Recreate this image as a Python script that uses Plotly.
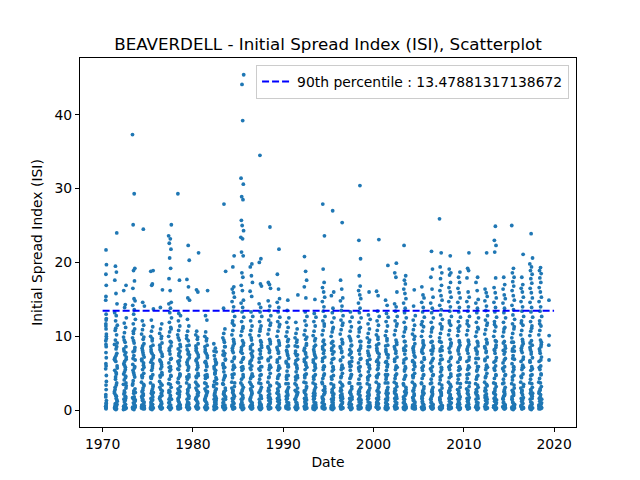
import pandas as pd
import plotly.graph_objects as go

# --- Values (ISI per fire season, one list per year) ---
years = list(range(1970, 2020))

isi_1970s = [
    [0.2, 0.5, 0.9, 0.4, 1.3, 2.1, 2.8, 3.4, 4.7, 5.6, 6.3, 7.1, 7.8, 8.6, 9.4, 10.3, 11.0, 11.7, 12.4, 13.0,
     14.9, 15.4, 16.9, 18.4, 19.7, 21.7, 0.7, 1.8, 3.9, 6.0],
    [0.1, 0.3, 0.6, 0.9, 1.2, 0.4, 1.6, 2.0, 0.8, 2.5, 3.1, 3.7, 4.2, 4.9, 5.4, 6.0, 6.6, 7.1, 7.7, 8.3,
     8.9, 9.5, 10.2, 10.8, 11.5, 12.1, 12.8, 13.2, 14.4, 15.8, 17.6, 18.7, 19.5, 24.0, 2.8, 5.1, 6.9, 9.1, 11.1, 0.2],
    [0.2, 0.5, 0.8, 1.1, 0.3, 1.5, 1.9, 2.4, 3.0, 3.5, 4.1, 4.6, 5.2, 5.8, 6.3, 6.9, 7.5, 8.0, 8.6, 9.2,
     9.9, 10.5, 11.2, 11.8, 12.5, 13.9, 14.3, 16.2, 16.9, 0.6, 2.2, 4.4, 6.1, 7.8, 9.5, 1.3, 0.1, 3.3],
    [0.1, 0.4, 0.7, 1.0, 1.4, 0.3, 1.8, 2.3, 2.9, 3.4, 4.0, 4.5, 5.1, 5.7, 6.2, 6.8, 7.4, 7.9, 8.5, 9.1,
     9.8, 10.4, 11.0, 11.7, 12.3, 13.0, 13.6, 14.2, 14.8, 15.1, 16.5, 17.5, 18.9, 19.2, 25.1, 29.3, 37.3,
     0.6, 2.6, 5.4, 8.2, 10.7, 1.2],
    [0.2, 0.5, 0.9, 1.3, 0.3, 1.7, 2.2, 2.7, 3.3, 3.8, 4.4, 5.0, 5.5, 6.1, 6.7, 7.2, 7.8, 8.4, 9.0, 9.6,
     10.3, 10.9, 11.5, 12.1, 14.1, 14.6, 24.5, 0.7, 1.1, 3.0, 4.7, 6.4, 8.1, 9.9, 0.4, 2.0],
    [0.1, 0.4, 0.8, 1.2, 0.3, 1.6, 2.1, 2.6, 3.2, 3.7, 4.3, 4.8, 5.4, 6.0, 6.5, 7.1, 7.7, 8.2, 8.8, 9.4,
     10.0, 10.7, 11.3, 12.2, 13.7, 16.9, 17.1, 18.8, 18.9, 0.6, 1.0, 2.9, 4.5, 6.3, 7.9, 9.7, 0.2, 2.4],
    [0.2, 0.5, 0.9, 1.3, 0.3, 1.8, 2.3, 2.8, 3.4, 3.9, 4.5, 5.1, 5.6, 6.2, 6.8, 7.3, 7.9, 8.5, 9.1, 9.7,
     10.4, 11.0, 11.7, 13.9, 16.3, 0.7, 1.1, 3.1, 4.8, 6.5, 8.2, 10.0, 0.4, 2.0],
    [0.1, 0.4, 0.7, 1.1, 0.3, 1.5, 2.0, 2.5, 3.1, 3.6, 4.2, 4.7, 5.3, 5.9, 6.4, 7.0, 7.6, 8.1, 8.7, 9.3,
     10.0, 10.6, 11.2, 11.9, 12.5, 13.2, 13.8, 14.4, 14.6, 16.2, 17.8, 19.2, 20.6, 21.8, 22.6, 23.2, 23.6,
     25.1, 0.6, 2.7, 5.5, 8.4, 11.0, 1.0],
    [0.2, 0.5, 0.8, 1.2, 0.3, 1.6, 2.1, 2.7, 3.2, 3.8, 4.3, 4.9, 5.5, 6.0, 6.6, 7.2, 7.7, 8.3, 8.9, 9.5,
     10.2, 10.8, 11.4, 12.1, 12.8, 13.1, 17.6, 29.3, 0.7, 1.0, 2.9, 4.6, 6.3, 8.0, 9.8, 0.4, 2.3],
    [0.1, 0.4, 0.8, 1.1, 0.3, 1.5, 2.0, 2.6, 3.1, 3.7, 4.2, 4.8, 5.4, 5.9, 6.5, 7.1, 7.6, 8.2, 8.8, 9.4,
     10.1, 10.7, 11.4, 12.3, 14.9, 15.2, 16.7, 17.7, 20.3, 22.3, 0.6, 1.0, 2.8, 4.5, 6.2, 7.9, 9.7, 0.2],
]

isi_1980s = [
    [0.2, 0.5, 0.9, 1.3, 0.3, 1.7, 2.2, 2.7, 3.3, 3.8, 4.4, 5.0, 5.5, 6.1, 6.7, 7.2, 7.8, 8.4, 9.0, 9.6,
     10.2, 10.7, 16.0, 16.3, 21.3, 0.7, 1.1, 3.0, 4.7, 6.4, 8.1, 9.9, 0.4, 2.0],
    [0.1, 0.4, 0.8, 1.2, 0.3, 1.6, 2.1, 2.6, 3.2, 3.7, 4.3, 4.8, 5.4, 6.0, 6.5, 7.1, 7.7, 8.2, 8.8, 9.4,
     10.0, 10.6, 12.2, 12.8, 16.2, 0.6, 1.0, 2.9, 4.5, 6.3, 7.9, 9.7, 0.2, 2.4],
    [0.2, 0.5, 0.8, 1.1, 0.3, 1.5, 1.9, 2.4, 2.9, 3.4, 3.9, 4.4, 4.9, 5.4, 5.9, 6.4, 6.9, 7.4, 7.9, 8.4,
     9.0, 0.6, 1.0, 2.2, 3.6, 5.1, 6.6, 8.0, 0.4, 1.7, 0.1],
    [0.1, 0.4, 0.7, 1.1, 0.3, 1.5, 2.0, 2.5, 3.0, 3.6, 4.1, 4.7, 5.2, 5.8, 6.3, 6.9, 7.4, 8.0, 8.6, 9.2,
     9.8, 10.4, 11.0, 13.8, 18.8, 27.9, 0.6, 1.0, 2.7, 4.4, 6.1, 7.7, 9.5, 0.2, 2.2],
    [0.2, 0.5, 0.9, 1.2, 0.3, 1.6, 2.1, 2.7, 3.2, 3.8, 4.4, 4.9, 5.5, 6.1, 6.6, 7.2, 7.8, 8.4, 9.0, 9.6,
     10.2, 10.8, 11.5, 12.1, 12.7, 13.4, 14.0, 14.7, 15.3, 15.9, 16.4, 16.7, 19.4, 20.9, 0.7, 1.0, 3.0, 5.8,
     8.7, 11.8, 0.4, 2.4],
    [0.1, 0.4, 0.7, 1.1, 0.3, 1.5, 2.0, 2.6, 3.1, 3.7, 4.2, 4.8, 5.4, 5.9, 6.5, 7.1, 7.7, 8.2, 8.8, 9.4,
     10.1, 10.7, 11.3, 12.0, 12.6, 13.3, 13.9, 14.5, 14.9, 16.2, 16.9, 18.0, 18.6, 20.9, 21.4, 23.2, 23.4,
     24.3, 25.0, 25.7, 28.5, 28.9, 30.6, 31.4, 39.2, 44.1, 45.4, 0.6, 2.8, 5.6, 8.5, 11.1, 1.0],
    [0.2, 0.5, 0.8, 1.2, 0.3, 1.6, 2.1, 2.7, 3.2, 3.8, 4.3, 4.9, 5.5, 6.0, 6.6, 7.2, 7.7, 8.3, 8.9, 9.5,
     10.2, 10.8, 11.4, 12.1, 12.7, 13.3, 15.4, 16.1, 17.3, 18.2, 19.4, 19.8, 0.7, 1.0, 2.9, 4.6, 6.3, 8.0,
     9.8, 0.4, 2.3],
    [0.1, 0.4, 0.8, 1.1, 0.3, 1.5, 2.0, 2.6, 3.1, 3.7, 4.2, 4.8, 5.4, 5.9, 6.5, 7.1, 7.6, 8.2, 8.8, 9.4,
     10.1, 10.7, 11.4, 12.0, 12.7, 13.3, 13.9, 14.4, 16.8, 17.1, 20.0, 20.5, 34.5, 0.6, 1.0, 2.8, 5.6, 8.5,
     11.0, 0.2],
    [0.2, 0.5, 0.9, 1.3, 0.3, 1.7, 2.2, 2.7, 3.3, 3.8, 4.4, 5.0, 5.5, 6.1, 6.7, 7.2, 7.8, 8.4, 9.0, 9.6,
     10.3, 10.9, 11.5, 12.2, 12.8, 13.5, 14.1, 14.8, 16.5, 17.0, 17.3, 24.8, 0.7, 1.1, 3.0, 5.8, 8.6, 11.8,
     0.4, 2.0],
    [0.1, 0.4, 0.8, 1.2, 0.3, 1.6, 2.1, 2.6, 3.2, 3.7, 4.3, 4.8, 5.4, 6.0, 6.5, 7.1, 7.7, 8.2, 8.8, 9.4,
     10.0, 10.7, 11.3, 12.0, 12.6, 13.3, 13.9, 14.6, 15.1, 16.4, 18.4, 21.8, 0.6, 1.0, 2.9, 5.7, 8.5, 11.6,
     0.2, 2.4],
]

isi_1990s = [
    [0.2, 0.5, 0.8, 1.1, 0.3, 1.5, 2.0, 2.5, 3.1, 3.6, 4.2, 4.7, 5.3, 5.9, 6.4, 7.0, 7.6, 8.1, 8.7, 9.3,
     10.0, 10.6, 11.2, 11.9, 12.5, 13.5, 14.9, 0.6, 1.0, 2.8, 4.5, 6.2, 7.9, 9.6, 0.4, 2.2],
    [0.1, 0.4, 0.7, 1.1, 0.3, 1.5, 2.0, 2.5, 3.0, 3.6, 4.1, 4.7, 5.2, 5.8, 6.3, 6.9, 7.4, 8.0, 8.6, 9.2,
     9.8, 10.4, 11.0, 11.9, 15.6, 0.6, 1.0, 2.7, 4.4, 6.1, 7.7, 9.5, 0.2, 2.2],
    [0.2, 0.5, 0.9, 1.2, 0.3, 1.6, 2.1, 2.7, 3.2, 3.8, 4.4, 4.9, 5.5, 6.1, 6.6, 7.2, 7.8, 8.4, 9.0, 9.6,
     10.2, 10.8, 11.5, 12.1, 12.7, 13.3, 15.2, 16.7, 17.6, 18.8, 20.8, 0.7, 1.0, 3.0, 4.7, 6.4, 8.1, 9.9,
     0.4, 2.4],
    [0.1, 0.4, 0.8, 1.1, 0.3, 1.5, 2.0, 2.6, 3.1, 3.7, 4.2, 4.8, 5.4, 5.9, 6.5, 7.1, 7.6, 8.2, 8.8, 9.4,
     10.1, 10.7, 11.4, 12.0, 12.6, 13.1, 15.0, 0.6, 1.0, 2.8, 4.5, 6.2, 7.9, 9.7, 0.2, 2.3],
    [0.2, 0.5, 0.8, 1.2, 0.3, 1.6, 2.1, 2.7, 3.2, 3.8, 4.3, 4.9, 5.5, 6.0, 6.6, 7.2, 7.7, 8.3, 8.9, 9.5,
     10.2, 10.8, 11.4, 12.1, 12.7, 13.4, 14.0, 14.7, 15.3, 16.0, 16.6, 17.3, 19.1, 23.6, 27.9, 0.7, 1.0,
     2.9, 5.8, 8.6, 11.7, 0.4, 2.3],
    [0.1, 0.4, 0.7, 1.1, 0.3, 1.5, 2.0, 2.5, 3.1, 3.6, 4.2, 4.7, 5.3, 5.9, 6.4, 7.0, 7.6, 8.1, 8.7, 9.3,
     10.0, 10.6, 11.2, 11.9, 12.5, 13.2, 13.8, 15.5, 16.0, 27.0, 0.6, 1.0, 2.8, 5.5, 8.4, 11.0, 0.2, 2.2],
    [0.2, 0.5, 0.9, 1.3, 0.3, 1.7, 2.2, 2.7, 3.3, 3.8, 4.4, 5.0, 5.5, 6.1, 6.7, 7.2, 7.8, 8.4, 9.0, 9.6,
     10.3, 10.9, 11.5, 12.2, 12.8, 13.5, 14.1, 14.8, 15.2, 16.4, 17.6, 25.4, 0.7, 1.1, 3.0, 5.8, 8.6, 11.8,
     0.4, 2.0],
    [0.1, 0.4, 0.8, 1.2, 0.3, 1.6, 2.1, 2.6, 3.2, 3.7, 4.3, 4.8, 5.4, 6.0, 6.5, 7.1, 7.7, 8.2, 8.8, 9.4,
     10.0, 10.7, 11.3, 12.0, 12.6, 13.3, 0.6, 1.0, 2.9, 4.5, 6.3, 7.9, 9.7, 0.2, 2.4],
    [0.2, 0.5, 0.8, 1.1, 0.3, 1.5, 2.0, 2.5, 3.1, 3.6, 4.2, 4.7, 5.3, 5.9, 6.4, 7.0, 7.6, 8.1, 8.7, 9.3,
     10.0, 10.6, 11.2, 11.9, 12.5, 13.2, 13.8, 14.5, 15.1, 15.6, 16.2, 16.8, 18.2, 20.5, 23.0, 30.4, 0.6,
     1.0, 2.8, 5.6, 8.4, 11.0, 0.4, 2.2],
    [0.1, 0.4, 0.7, 1.1, 0.3, 1.5, 2.0, 2.5, 3.0, 3.6, 4.1, 4.7, 5.2, 5.8, 6.3, 6.9, 7.4, 8.0, 8.6, 9.2,
     9.8, 10.4, 11.0, 11.7, 12.3, 12.9, 16.0, 0.6, 1.0, 2.7, 4.4, 6.1, 7.7, 9.5, 0.2, 2.2],
]

isi_2000s = [
    [0.2, 0.5, 0.9, 1.2, 0.3, 1.6, 2.1, 2.7, 3.2, 3.8, 4.4, 4.9, 5.5, 6.1, 6.6, 7.2, 7.8, 8.4, 9.0, 9.6,
     10.2, 10.8, 11.5, 12.1, 12.7, 13.4, 15.5, 16.1, 23.1, 0.7, 1.0, 3.0, 4.7, 6.4, 8.1, 9.9, 0.4, 2.4],
    [0.1, 0.4, 0.8, 1.1, 0.3, 1.5, 2.0, 2.6, 3.1, 3.7, 4.2, 4.8, 5.4, 5.9, 6.5, 7.1, 7.6, 8.2, 8.8, 9.4,
     10.1, 10.7, 11.4, 12.0, 12.6, 13.1, 14.2, 14.9, 19.6, 0.6, 1.0, 2.8, 4.5, 6.2, 7.9, 9.7, 0.2, 2.3],
    [0.2, 0.5, 0.8, 1.2, 0.3, 1.6, 2.1, 2.7, 3.2, 3.8, 4.3, 4.9, 5.5, 6.0, 6.6, 7.2, 7.7, 8.3, 8.9, 9.5,
     10.2, 10.8, 11.4, 12.1, 12.7, 13.4, 14.0, 14.4, 16.0, 18.0, 18.6, 19.9, 0.7, 1.0, 2.9, 5.8, 8.6, 11.7,
     0.4, 2.3],
    [0.1, 0.4, 0.7, 1.1, 0.3, 1.5, 2.0, 2.5, 3.1, 3.6, 4.2, 4.7, 5.3, 5.9, 6.4, 7.0, 7.6, 8.1, 8.7, 9.3,
     10.0, 10.6, 11.2, 11.9, 12.5, 13.2, 13.8, 14.5, 15.1, 15.8, 16.4, 17.1, 17.6, 18.2, 22.3, 0.6, 1.0,
     2.8, 5.5, 8.4, 11.0, 0.2, 2.2],
    [0.2, 0.5, 0.9, 1.3, 0.3, 1.7, 2.2, 2.7, 3.3, 3.8, 4.4, 5.0, 5.5, 6.1, 6.7, 7.2, 7.8, 8.4, 9.0, 9.6,
     10.3, 10.9, 11.5, 12.2, 12.8, 14.1, 16.3, 0.7, 1.1, 3.0, 4.7, 6.4, 8.1, 10.0, 0.4, 2.0],
    [0.1, 0.4, 0.8, 1.2, 0.3, 1.6, 2.1, 2.6, 3.2, 3.7, 4.3, 4.8, 5.4, 6.0, 6.5, 7.1, 7.7, 8.2, 8.8, 9.4,
     10.0, 10.7, 11.3, 12.0, 12.6, 13.3, 13.9, 14.6, 15.2, 15.6, 16.7, 0.6, 1.0, 2.9, 5.7, 8.5, 11.6, 0.2,
     2.4],
    [0.2, 0.5, 0.8, 1.1, 0.3, 1.5, 2.0, 2.5, 3.1, 3.6, 4.2, 4.7, 5.3, 5.9, 6.4, 7.0, 7.6, 8.1, 8.7, 9.3,
     10.0, 10.6, 11.2, 11.9, 12.5, 13.2, 13.8, 14.5, 15.3, 16.4, 18.0, 19.1, 21.5, 0.6, 1.0, 2.8, 5.6, 8.4,
     11.0, 0.4, 2.2],
    [0.1, 0.4, 0.7, 1.1, 0.3, 1.5, 2.0, 2.5, 3.0, 3.6, 4.1, 4.7, 5.2, 5.8, 6.3, 6.9, 7.4, 8.0, 8.6, 9.2,
     9.8, 10.4, 11.0, 11.7, 12.3, 12.9, 13.6, 14.2, 14.9, 15.5, 16.2, 16.9, 17.8, 18.6, 19.4, 21.3, 25.9,
     0.6, 1.0, 2.7, 5.5, 8.3, 11.3, 0.2, 2.2],
    [0.2, 0.5, 0.9, 1.2, 0.3, 1.6, 2.1, 2.7, 3.2, 3.8, 4.4, 4.9, 5.5, 6.1, 6.6, 7.2, 7.8, 8.4, 9.0, 9.6,
     10.2, 10.8, 11.5, 12.1, 12.7, 13.4, 14.0, 14.7, 15.3, 16.0, 16.6, 17.3, 18.3, 18.6, 19.1, 20.9, 0.7,
     1.0, 3.0, 5.8, 8.7, 11.8, 0.4, 2.4],
    [0.1, 0.4, 0.8, 1.1, 0.3, 1.5, 2.0, 2.6, 3.1, 3.7, 4.2, 4.8, 5.4, 5.9, 6.5, 7.1, 7.6, 8.2, 8.8, 9.4,
     10.1, 10.7, 11.4, 12.0, 12.6, 13.3, 13.9, 14.6, 15.2, 15.9, 16.5, 17.3, 18.0, 18.7, 0.6, 1.0, 2.8,
     5.6, 8.5, 11.1, 0.2, 2.3],
]

isi_2010s = [
    [0.2, 0.5, 0.8, 1.2, 0.3, 1.6, 2.1, 2.7, 3.2, 3.8, 4.3, 4.9, 5.5, 6.0, 6.6, 7.2, 7.7, 8.3, 8.9, 9.5,
     10.2, 10.8, 11.4, 12.1, 12.7, 13.4, 14.0, 14.7, 15.3, 16.0, 17.9, 18.9, 19.2, 21.3, 0.7, 1.0, 2.9,
     5.8, 8.6, 11.7, 0.4, 2.3],
    [0.1, 0.4, 0.7, 1.1, 0.3, 1.5, 2.0, 2.5, 3.1, 3.6, 4.2, 4.7, 5.3, 5.9, 6.4, 7.0, 7.6, 8.1, 8.7, 9.3,
     10.0, 10.6, 11.2, 11.9, 12.5, 13.2, 13.8, 14.5, 15.0, 16.2, 17.3, 18.0, 0.6, 1.0, 2.8, 5.5, 8.4, 11.0,
     0.2, 2.2],
    [0.2, 0.5, 0.9, 1.3, 0.3, 1.7, 2.2, 2.7, 3.3, 3.8, 4.4, 5.0, 5.5, 6.1, 6.7, 7.2, 7.8, 8.4, 9.0, 9.6,
     10.3, 10.9, 11.5, 12.2, 12.8, 13.5, 14.1, 14.8, 15.4, 15.9, 16.4, 21.3, 0.7, 1.1, 3.0, 5.8, 8.6, 11.8,
     0.4, 2.0],
    [0.1, 0.4, 0.8, 1.2, 0.3, 1.6, 2.1, 2.6, 3.2, 3.7, 4.3, 4.8, 5.4, 6.0, 6.5, 7.1, 7.7, 8.2, 8.8, 9.4,
     10.0, 10.7, 11.3, 12.0, 12.6, 13.3, 13.9, 14.6, 15.2, 15.9, 16.6, 17.9, 21.4, 22.3, 23.0, 24.9, 0.6,
     1.0, 2.9, 5.7, 8.5, 11.6, 0.2, 2.4],
    [0.2, 0.5, 0.8, 1.1, 0.3, 1.5, 2.0, 2.5, 3.1, 3.6, 4.2, 4.7, 5.3, 5.9, 6.4, 7.0, 7.6, 8.1, 8.7, 9.3,
     10.0, 10.6, 11.2, 11.9, 12.5, 13.2, 13.8, 14.5, 15.1, 15.6, 16.4, 17.0, 18.0, 0.6, 1.0, 2.8, 5.6, 8.4,
     11.0, 0.4, 2.2],
    [0.1, 0.4, 0.7, 1.1, 0.3, 1.5, 2.0, 2.5, 3.0, 3.6, 4.1, 4.7, 5.2, 5.8, 6.3, 6.9, 7.4, 8.0, 8.6, 9.2,
     9.8, 10.4, 11.0, 11.7, 12.3, 12.9, 13.6, 14.2, 14.9, 15.5, 16.2, 16.8, 17.4, 18.0, 18.6, 19.2, 25.0,
     0.6, 1.0, 2.7, 5.5, 8.3, 11.3, 0.2, 2.2],
    [0.2, 0.5, 0.9, 1.2, 0.3, 1.6, 2.1, 2.7, 3.2, 3.8, 4.4, 4.9, 5.5, 6.1, 6.6, 7.2, 7.8, 8.4, 9.0, 9.6,
     10.2, 10.8, 11.5, 12.1, 12.7, 13.4, 14.0, 14.7, 15.3, 16.0, 16.5, 17.0, 18.0, 21.1, 0.7, 1.0, 3.0,
     5.8, 8.7, 11.8, 0.4, 2.4],
    [0.1, 0.4, 0.8, 1.1, 0.3, 1.5, 2.0, 2.6, 3.1, 3.7, 4.2, 4.8, 5.4, 5.9, 6.5, 7.1, 7.6, 8.2, 8.8, 9.4,
     10.1, 10.7, 11.4, 12.0, 12.6, 13.3, 13.9, 14.6, 15.2, 15.9, 16.5, 17.2, 17.8, 18.4, 18.9, 19.4, 19.8,
     20.6, 23.9, 0.6, 1.0, 2.8, 5.6, 8.5, 11.1, 0.2, 2.3],
    [0.2, 0.5, 0.8, 1.2, 0.3, 1.6, 2.1, 2.7, 3.2, 3.8, 4.3, 4.9, 5.5, 6.0, 6.6, 7.2, 7.7, 8.3, 8.9, 9.5,
     10.2, 10.8, 11.4, 12.1, 12.7, 13.4, 14.0, 14.7, 15.3, 16.0, 16.6, 17.3, 17.9, 18.5, 18.9, 19.3, 0.7,
     1.0, 2.9, 5.8, 8.6, 11.7, 0.4, 2.3],
    [6.8, 8.8, 10.1, 14.9],
]

# further readings inside the dense lower part of each season's band
isi_dense_1970s = [
    [0.3, 1.0, 8.9, 10.0, 11.4, 12.2, 0.5, 9.7],
    [0.2, 0.7, 1.4, 2.3, 3.4, 4.5, 5.7, 6.8, 7.4, 8.6, 0.5, 1.9],
    [0.3, 0.6, 1.6, 2.6, 3.7, 4.9, 5.5, 6.6, 7.2, 8.3, 0.2, 1.8],
    [0.2, 0.8, 1.5, 2.4, 3.6, 4.8, 5.9, 7.0, 8.0, 9.4, 0.4, 1.7],
    [0.3, 0.6, 1.5, 2.5, 3.5, 4.6, 5.8, 6.9, 7.5, 8.7, 0.2, 1.9],
    [0.2, 0.7, 1.4, 2.3, 3.4, 4.5, 5.7, 6.8, 7.4, 8.6, 0.5, 1.8],
    [0.3, 0.8, 1.6, 2.6, 3.6, 4.7, 5.9, 6.6, 7.6, 8.8, 0.2, 1.9],
    [0.2, 0.6, 1.5, 2.4, 3.5, 4.6, 5.8, 6.9, 8.0, 9.2, 0.4, 1.7],
    [0.3, 0.7, 1.4, 2.5, 3.7, 4.8, 5.6, 6.7, 7.4, 8.6, 0.2, 1.8],
    [0.2, 0.8, 1.6, 2.3, 3.4, 4.5, 5.7, 6.8, 7.5, 8.7, 0.5, 1.9],
]
isi_dense_1980s = [
    [0.3, 0.6, 1.5, 2.4, 3.5, 4.6, 5.8, 6.9, 7.5, 8.7, 0.2, 1.8],
    [0.2, 0.7, 1.4, 2.5, 3.6, 4.7, 5.9, 6.6, 7.4, 8.6, 0.4, 1.9],
    [0.3, 0.8, 1.3, 2.0, 2.7, 3.2, 4.2, 5.0, 5.6, 6.2, 0.2, 1.6],
    [0.2, 0.6, 1.5, 2.4, 3.5, 4.6, 5.7, 6.8, 7.5, 8.6, 0.5, 1.8],
    [0.3, 0.7, 1.6, 2.6, 3.7, 4.8, 5.9, 7.0, 8.1, 9.3, 0.2, 1.9],
    [0.2, 0.8, 1.5, 2.3, 3.4, 4.5, 5.8, 6.9, 7.9, 9.1, 0.4, 1.7],
    [0.3, 0.6, 1.4, 2.5, 3.5, 4.6, 5.7, 6.8, 7.4, 8.6, 0.2, 1.8],
    [0.2, 0.7, 1.6, 2.4, 3.6, 4.7, 5.9, 7.0, 8.0, 9.2, 0.5, 1.9],
    [0.3, 0.8, 1.5, 2.6, 3.4, 4.5, 5.8, 6.9, 8.1, 9.3, 0.2, 1.7],
    [0.2, 0.6, 1.4, 2.3, 3.5, 4.6, 5.7, 6.8, 7.9, 9.1, 0.4, 1.8],
]
isi_dense_1990s = [
    [0.3, 0.7, 1.6, 2.5, 3.6, 4.7, 5.9, 6.6, 7.4, 8.6, 0.2, 1.9],
    [0.2, 0.8, 1.5, 2.4, 3.4, 4.5, 5.6, 6.7, 7.5, 8.7, 0.5, 1.8],
    [0.3, 0.6, 1.4, 2.6, 3.7, 4.8, 5.8, 6.9, 7.6, 8.8, 0.2, 1.7],
    [0.2, 0.7, 1.6, 2.3, 3.5, 4.6, 5.7, 6.8, 7.4, 8.6, 0.4, 1.9],
    [0.3, 0.8, 1.5, 2.5, 3.6, 4.7, 5.9, 7.0, 8.1, 9.3, 0.2, 1.8],
    [0.2, 0.6, 1.4, 2.4, 3.4, 4.5, 5.8, 6.9, 7.9, 9.1, 0.5, 1.7],
    [0.3, 0.7, 1.6, 2.6, 3.5, 4.6, 5.7, 6.8, 8.0, 9.2, 0.2, 1.9],
    [0.2, 0.8, 1.5, 2.3, 3.7, 4.8, 5.9, 6.6, 7.5, 8.7, 0.4, 1.8],
    [0.3, 0.6, 1.4, 2.5, 3.6, 4.7, 5.8, 6.9, 8.1, 9.3, 0.2, 1.7],
    [0.2, 0.7, 1.6, 2.4, 3.4, 4.5, 5.6, 6.7, 7.4, 8.6, 0.5, 1.9],
]
isi_dense_2000s = [
    [0.3, 0.8, 1.5, 2.6, 3.5, 4.6, 5.7, 6.8, 7.6, 8.8, 0.2, 1.8],
    [0.2, 0.6, 1.4, 2.3, 3.7, 4.8, 5.9, 6.6, 7.5, 8.7, 0.4, 1.7],
    [0.3, 0.7, 1.6, 2.5, 3.6, 4.7, 5.8, 6.9, 8.0, 9.2, 0.2, 1.9],
    [0.2, 0.8, 1.5, 2.4, 3.4, 4.5, 5.7, 6.8, 8.1, 9.3, 0.5, 1.8],
    [0.3, 0.6, 1.4, 2.6, 3.5, 4.6, 5.9, 6.6, 7.4, 8.6, 0.2, 1.7],
    [0.2, 0.7, 1.6, 2.3, 3.6, 4.7, 5.8, 6.9, 7.9, 9.1, 0.4, 1.9],
    [0.3, 0.8, 1.5, 2.5, 3.7, 4.8, 5.6, 6.7, 8.0, 9.2, 0.2, 1.8],
    [0.2, 0.6, 1.4, 2.4, 3.4, 4.5, 5.7, 6.8, 8.1, 9.3, 0.5, 1.7],
    [0.3, 0.7, 1.6, 2.6, 3.5, 4.6, 5.9, 7.0, 7.9, 9.1, 0.2, 1.9],
    [0.2, 0.8, 1.5, 2.3, 3.6, 4.7, 5.8, 6.9, 8.0, 9.2, 0.4, 1.8],
]
isi_dense_2010s = [
    [0.3, 0.6, 1.4, 2.5, 3.7, 4.8, 5.7, 6.8, 8.1, 9.3, 0.2, 1.7],
    [0.2, 0.7, 1.6, 2.4, 3.4, 4.5, 5.9, 7.0, 7.9, 9.1, 0.5, 1.9],
    [0.3, 0.8, 1.5, 2.6, 3.5, 4.6, 5.8, 6.9, 8.0, 9.2, 0.2, 1.8],
    [0.2, 0.6, 1.4, 2.3, 3.6, 4.7, 5.6, 6.7, 8.1, 9.3, 0.4, 1.7],
    [0.3, 0.7, 1.6, 2.5, 3.7, 4.8, 5.7, 6.8, 7.9, 9.1, 0.2, 1.9],
    [0.2, 0.8, 1.5, 2.4, 3.4, 4.5, 5.9, 7.0, 8.0, 9.2, 0.5, 1.8],
    [0.3, 0.6, 1.4, 2.6, 3.5, 4.6, 5.8, 6.9, 8.1, 9.3, 0.2, 1.7],
    [0.2, 0.7, 1.6, 2.3, 3.6, 4.7, 5.6, 6.7, 7.9, 9.1, 0.4, 1.9],
    [0.3, 0.8, 1.5, 2.5, 3.7, 4.8, 5.7, 6.8, 8.0, 9.2, 0.2, 1.8],
    [],
]

# sampling days within a season, as fractions of the season (scrambled order)
season_frac = [0.52, 0.08, 0.71, 0.33, 0.95, 0.18, 0.61, 0.44, 0.86, 0.02, 0.27, 0.77, 0.39, 0.66,
               0.13, 0.91, 0.49, 0.22, 0.83, 0.57, 0.05, 0.35, 0.74, 0.29, 0.98, 0.42, 0.63, 0.11,
               0.88, 0.54, 0.16, 0.69, 0.37, 0.80, 0.25, 0.59, 0.03, 0.93, 0.46, 0.20, 0.73, 0.31,
               0.85, 0.09, 0.64, 0.41, 0.97, 0.14, 0.56, 0.78, 0.24, 0.68, 0.36, 0.89, 0.06, 0.50,
               0.12, 0.47, 0.81, 0.28, 0.65, 0.01, 0.92, 0.38, 0.75, 0.19, 0.58, 0.96]

default_season = ("04-20", "08-20")
special_seasons = {1970: ("05-05", "06-05"), 2019: ("06-01", "06-20")}

p90 = 13.47881317138672
p90_start, p90_end = "1970-01-01", "2019-12-31"

# --- Build the date / value series ---
isi_values = isi_1970s + isi_1980s + isi_1990s + isi_2000s + isi_2010s
isi_dense = isi_dense_1970s + isi_dense_1980s + isi_dense_1990s + isi_dense_2000s + isi_dense_2010s
dates, vals = [], []
for yr, yv, yd in zip(years, isi_values, isi_dense):
    s, e = special_seasons.get(yr, default_season)
    t0 = pd.Timestamp(f"{yr}-{s}")
    t1 = pd.Timestamp(f"{yr}-{e}")
    for frac, v in zip(season_frac, yv + yd):
        dates.append(t0 + (t1 - t0) * frac)
        vals.append(v)

fig = go.Figure()
fig.add_trace(go.Scatter(x=dates, y=vals, mode="markers",
                         marker=dict(color="#1f77b4", size=3.8, line=dict(width=0)),
                         showlegend=False, hoverinfo="skip"))
fig.add_trace(go.Scatter(x=[p90_start, p90_end], y=[p90, p90], mode="lines",
                         line=dict(color="blue", width=2, dash="7px,3px"),
                         name=f"90th percentile : {p90}"))

axis_common = dict(showline=True, linecolor="black", linewidth=1, mirror=True,
                   ticks="outside", ticklen=4, tickcolor="black", showgrid=False,
                   zeroline=False, tickfont=dict(size=13.9, color="black"))

# the page has an 8px body margin, so the margins below are shifted by that much
fig.update_layout(
    width=640, height=480,
    paper_bgcolor="white", plot_bgcolor="white",
    font=dict(family="DejaVu Sans", color="black"),
    margin=dict(l=72, r=72, t=50, b=61),
    title=dict(text="BEAVERDELL - Initial Spread Index (ISI), Scatterplot",
               x=0.5, xanchor="center", xref="paper",
               y=1 - 42 / 480, yanchor="bottom", yref="container",
               font=dict(size=16.7)),
    xaxis=dict(range=["1967-07-01", "2022-06-05"], tickformat="%Y",
               tick0="1970-01-01", dtick="M120",
               title=dict(text="Date", font=dict(size=13.9), standoff=6), **axis_common),
    yaxis=dict(range=[-2.27, 47.67], tick0=0, dtick=10,
               title=dict(text="Initial Spread Index (ISI)", font=dict(size=13.9), standoff=8),
               **axis_common),
    legend=dict(x=0.986, y=0.981, xanchor="right", yanchor="top",
                bgcolor="rgba(255,255,255,0.8)", bordercolor="#cccccc", borderwidth=1,
                font=dict(size=13.9)),
)

fig.write_html("out.html")
